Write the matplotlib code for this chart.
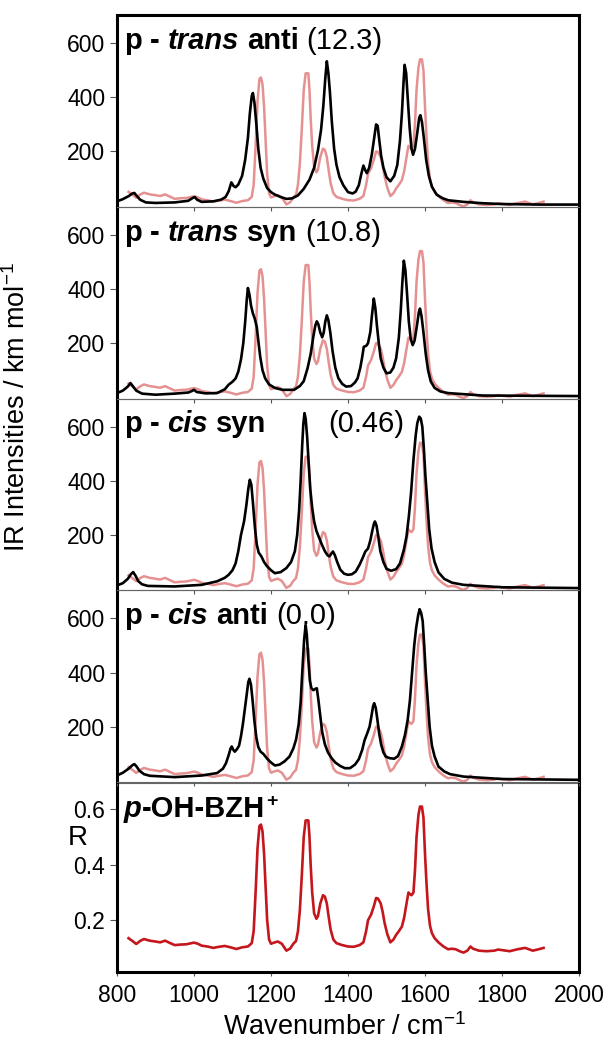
import matplotlib
matplotlib.use("Agg")
import matplotlib.pyplot as plt
import numpy as np

plt.rcParams['font.family'] = ['Liberation Sans', 'DejaVu Sans']
plt.rcParams['mathtext.fontset'] = 'custom'
plt.rcParams['mathtext.rm'] = 'Liberation Sans'
plt.rcParams['mathtext.it'] = 'Liberation Sans:italic'
plt.rcParams['mathtext.bf'] = 'Liberation Sans:bold'

# ---------------- data ----------------
# experimental IRMPD spectrum (R)
exp_wn = [830, 840, 850, 860, 870, 885, 900, 912, 925, 937, 950, 965, 980, 1000, 1010, 1020,
          1035, 1050, 1065, 1080, 1095, 1110, 1125, 1140, 1150, 1155, 1160, 1165, 1170, 1174,
          1178, 1182, 1186, 1190, 1195, 1200, 1210, 1218, 1228, 1240, 1250, 1258, 1265, 1270,
          1275, 1280, 1285, 1290, 1297, 1300, 1303, 1307, 1312, 1318, 1322, 1328, 1335, 1340,
          1345, 1350, 1355, 1362, 1370, 1385, 1400, 1415, 1430, 1440, 1447, 1452, 1460, 1467,
          1473, 1478, 1485, 1490, 1495, 1502, 1510, 1518, 1525, 1532, 1540, 1546, 1552, 1557,
          1560, 1565, 1570, 1574, 1578, 1583, 1587, 1592, 1596, 1600, 1604, 1608, 1613, 1618,
          1625, 1635, 1648, 1660, 1670, 1680, 1690, 1700, 1710, 1718, 1725, 1740, 1760, 1780,
          1790, 1800, 1820, 1840, 1860, 1870, 1880, 1895, 1908]
exp_R = [0.135, 0.125, 0.114, 0.125, 0.132, 0.126, 0.123, 0.120, 0.126, 0.118, 0.110, 0.112,
         0.113, 0.119, 0.115, 0.108, 0.105, 0.100, 0.104, 0.107, 0.102, 0.096, 0.102, 0.105,
         0.117, 0.160, 0.300, 0.460, 0.540, 0.545, 0.520, 0.440, 0.320, 0.200, 0.130, 0.115,
         0.120, 0.123, 0.115, 0.090, 0.098, 0.115, 0.125, 0.160, 0.237, 0.360, 0.500, 0.560,
         0.560, 0.500, 0.400, 0.300, 0.225, 0.205, 0.215, 0.260, 0.290, 0.285, 0.260, 0.210,
         0.165, 0.130, 0.117, 0.110, 0.105, 0.104, 0.110, 0.120, 0.160, 0.200, 0.220, 0.250,
         0.280, 0.278, 0.260, 0.230, 0.190, 0.150, 0.120, 0.130, 0.147, 0.160, 0.177, 0.210,
         0.260, 0.300, 0.295, 0.290, 0.300, 0.380, 0.500, 0.580, 0.610, 0.610, 0.570, 0.440,
         0.330, 0.240, 0.180, 0.153, 0.135, 0.120, 0.105, 0.095, 0.097, 0.095, 0.088, 0.083,
         0.090, 0.105, 0.097, 0.090, 0.088, 0.090, 0.094, 0.092, 0.088, 0.095, 0.100, 0.095,
         0.090, 0.095, 0.100]

# calculated spectra (IR intensities, km/mol)
ta_wn = [800, 815, 830, 840, 845, 852, 860, 875, 900, 950, 985, 995, 1002, 1008, 1020, 1050,
         1070, 1082, 1090, 1097, 1103, 1108, 1115, 1125, 1133, 1140, 1145, 1150, 1153, 1157,
         1162, 1167, 1173, 1180, 1190, 1200, 1210, 1225, 1240, 1255, 1270, 1285, 1300, 1312,
         1322, 1330, 1336, 1341, 1345, 1349, 1353, 1358, 1364, 1370, 1378, 1388, 1400, 1412,
         1420, 1428, 1435, 1440, 1445, 1449, 1455, 1462, 1468, 1473, 1477, 1481, 1486, 1492,
         1500, 1510, 1520, 1528, 1535, 1540, 1544, 1547, 1551, 1555, 1560, 1565, 1569, 1574,
         1580, 1585, 1588, 1592, 1597, 1603, 1610, 1618, 1630, 1645, 1660, 1700, 1750, 1800,
         1900, 2000]
ta_I = [16, 24, 35, 45, 47, 35, 22, 12, 10, 12, 18, 27, 32, 22, 14, 16, 22, 32, 53, 86, 72, 68,
        78, 110, 170, 250, 340, 405, 416, 380, 300, 210, 140, 100, 65, 50, 41, 32, 25, 27, 38,
        62, 96, 140, 205, 280, 370, 470, 533, 490, 420, 310, 210, 151, 105, 75, 50, 45, 52, 75,
        120, 148, 130, 120, 140, 190, 250, 300, 295, 245, 185, 140, 105, 90, 110, 150, 240, 340,
        450, 520, 490, 400, 290, 210, 188, 210, 270, 325, 334, 310, 250, 170, 110, 70, 41, 28,
        20, 14, 9, 6, 4, 4]

ts_wn = [800, 815, 828, 835, 842, 850, 865, 900, 950, 985, 995, 1000, 1007, 1030, 1060, 1080,
         1090, 1100, 1108, 1115, 1122, 1128, 1133, 1137, 1140, 1144, 1148, 1153, 1158, 1163,
         1167, 1172, 1178, 1185, 1195, 1210, 1230, 1260, 1275, 1285, 1295, 1303, 1310, 1315,
         1319, 1323, 1328, 1333, 1337, 1341, 1345, 1349, 1354, 1360, 1367, 1375, 1385, 1395,
         1408, 1418, 1425, 1432, 1437, 1441, 1447, 1452, 1458, 1462, 1467, 1471, 1475, 1480,
         1485, 1492, 1500, 1510, 1518, 1525, 1532, 1537, 1541, 1545, 1549, 1553, 1558, 1563,
         1568, 1573, 1579, 1584, 1587, 1591, 1596, 1602, 1608, 1615, 1625, 1640, 1660, 1750,
         2000]
ts_I = [16, 25, 40, 53, 40, 25, 14, 10, 14, 18, 24, 28, 20, 15, 16, 30, 47, 58, 70, 95, 140,
        200, 280, 360, 404, 380, 340, 310, 290, 260, 210, 150, 100, 70, 48, 35, 28, 28, 42, 60,
        108, 160, 225, 265, 281, 270, 240, 222, 240, 280, 303, 285, 240, 170, 110, 71, 50, 40,
        42, 55, 71, 110, 150, 187, 190, 200, 242, 300, 365, 330, 267, 200, 144, 110, 89, 92,
        110, 144, 220, 320, 420, 505, 470, 390, 280, 215, 193, 210, 265, 315, 328, 300, 240,
        160, 100, 59, 35, 22, 16, 7, 5]

cs_wn = [800, 815, 828, 836, 842, 848, 855, 865, 880, 950, 1020, 1060, 1080, 1090, 1100, 1108,
         1115, 1122, 1130, 1136, 1141, 1145, 1149, 1153, 1158, 1163, 1168, 1175, 1182, 1190,
         1200, 1210, 1225, 1240, 1252, 1262, 1268, 1273, 1277, 1281, 1284, 1287, 1290, 1294,
         1298, 1302, 1307, 1312, 1318, 1325, 1332, 1340, 1347, 1352, 1357, 1361, 1366, 1372,
         1380, 1390, 1400, 1410, 1420, 1430, 1438, 1445, 1452, 1458, 1463, 1467, 1470, 1474,
         1478, 1484, 1492, 1500, 1512, 1525, 1535, 1545, 1552, 1558, 1564, 1570, 1576, 1580,
         1585, 1589, 1593, 1597, 1601, 1606, 1611, 1617, 1625, 1635, 1650, 1670, 1700, 1800,
         2000]
cs_I = [14, 22, 38, 55, 63, 50, 30, 18, 12, 10, 16, 29, 42, 53, 70, 95, 140, 200, 250, 310,
        370, 404, 385, 320, 231, 165, 135, 121, 100, 84, 70, 59, 63, 78, 100, 140, 200, 290,
        400, 530, 610, 650, 630, 560, 460, 370, 300, 250, 215, 190, 165, 140, 125, 121, 132,
        139, 125, 100, 72, 57, 53, 55, 65, 90, 115, 139, 150, 180, 215, 240, 250, 235, 200,
        140, 100, 75, 68, 74, 95, 145, 195, 268, 360, 477, 570, 613, 637, 630, 600, 520, 420,
        320, 220, 150, 100, 62, 38, 24, 16, 7, 4]

ca_wn = [800, 815, 830, 840, 845, 850, 858, 870, 885, 950, 1020, 1060, 1075, 1083, 1090, 1095,
         1098, 1102, 1106, 1112, 1117, 1122, 1127, 1132, 1137, 1141, 1144, 1148, 1152, 1157,
         1162, 1167, 1173, 1180, 1190, 1200, 1210, 1222, 1235, 1248, 1258, 1265, 1272, 1277,
         1282, 1286, 1290, 1293, 1297, 1301, 1305, 1310, 1315, 1319, 1323, 1328, 1333, 1340,
         1348, 1357, 1367, 1380, 1392, 1405, 1418, 1428, 1437, 1443, 1450, 1456, 1461, 1465,
         1468, 1472, 1476, 1481, 1486, 1492, 1498, 1508, 1520, 1530, 1540, 1548, 1555, 1561,
         1567, 1572, 1577, 1582, 1586, 1590, 1594, 1598, 1602, 1607, 1612, 1618, 1625, 1635,
         1650, 1665, 1700, 1800, 2000]
ca_I = [20, 30, 45, 58, 62, 55, 38, 25, 19, 14, 20, 29, 45, 65, 95, 120, 127, 115, 108, 118,
        130, 165, 210, 265, 320, 365, 377, 355, 300, 220, 160, 125, 108, 100, 82, 68, 57, 60,
        72, 90, 120, 152, 210, 290, 422, 520, 576, 540, 447, 370, 342, 335, 340, 342, 300, 240,
        180, 135, 105, 85, 68, 55, 47, 47, 60, 80, 115, 150, 176, 200, 240, 275, 287, 270, 230,
        175, 135, 105, 90, 84, 82, 92, 127, 170, 225, 300, 410, 500, 565, 610, 634, 620, 590,
        500, 400, 300, 200, 130, 90, 53, 35, 25, 16, 7, 4]

calc_wn = [ta_wn, ts_wn, cs_wn, ca_wn]
calc_I = [ta_I, ts_I, cs_I, ca_I]
conformer = ["trans", "trans", "cis", "cis"]
orientation = ["anti", "syn", "syn", "anti"]
rel_energy = ["(12.3)", "(10.8)", "(0.46)", "(0.0)"]

ir_ticks = [200, 400, 600]
r_ticks = [0.2, 0.4, 0.6]
x_ticks = [800, 1000, 1200, 1400, 1600, 1800, 2000]

# ---------------- layout ----------------
W_PX, H_PX = 611, 1043
fig = plt.figure(figsize=(W_PX / 100, H_PX / 100), dpi=100)
fig.patch.set_facecolor('white')

left_px, right_px = 117, 579
tops = [15, 206.75, 398.5, 590.25, 783]
bots = [206.75, 398.5, 590.25, 782, 972]

def make_ax(i):
    t, b = tops[i], bots[i]
    return fig.add_axes([left_px / W_PX, 1 - b / H_PX, (right_px - left_px) / W_PX, (b - t) / H_PX])

THICK = 2.2
THIN = 0.8
TICKC = '#555555'
TITLE_FS = 21
GAP = 8

def style_ax(ax, top_thick, bottom_thick, show_xlabels):
    for side in ['left', 'right']:
        ax.spines[side].set_linewidth(THICK)
        ax.spines[side].set_color('black')
    ax.spines['top'].set_linewidth(THICK if top_thick else THIN)
    ax.spines['top'].set_color('black' if top_thick else '#666666')
    ax.spines['bottom'].set_linewidth(THICK if bottom_thick else THIN)
    ax.spines['bottom'].set_color('black' if bottom_thick else '#666666')
    ax.set_xlim(800, 2000)
    ax.set_xticks(x_ticks)
    ax.tick_params(axis='x', direction='out', length=2.8, width=0.8, color=TICKC,
                   labelsize=16.5, pad=5.5, labelbottom=show_xlabels)
    ax.tick_params(axis='y', direction='out', length=5, width=0.8, color=TICKC,
                   labelsize=16.5, pad=3.5)
    ax.patch.set_visible(False)

def add_title(ax, pieces):
    prev = None
    for text, weight, style, fs in pieces:
        if prev is None:
            prev = ax.annotate(text, xy=(0, 1), xycoords='axes fraction', xytext=(7, -34),
                               textcoords='offset pixels', ha='left', va='baseline',
                               fontsize=fs, fontweight=weight, fontstyle=style,
                               annotation_clip=False, zorder=10)
        else:
            prev = ax.annotate(text, xy=(1, 0), xycoords=prev, xytext=(GAP, 0),
                               textcoords='offset pixels', ha='left', va='bottom',
                               fontsize=fs, fontweight=weight, fontstyle=style,
                               annotation_clip=False, zorder=10)
    return prev

for i in range(4):
    ax = make_ax(i)
    tw = ax.twinx()
    tw.plot(exp_wn, exp_R, color='#e38585', lw=1.8, alpha=0.9, solid_joinstyle='round')
    tw.set_ylim(0.0816, 0.769)
    tw.axis('off')
    ax.set_zorder(tw.get_zorder() + 1)
    ax.plot(calc_wn[i], calc_I[i], color='black', lw=1.9, solid_joinstyle='round')
    ax.set_ylim(-4, 704)
    ax.set_yticks(ir_ticks)
    style_ax(ax, top_thick=(i == 0), bottom_thick=False, show_xlabels=False)
    tw.set_xlim(800, 2000)
    pieces = [("p", 'bold', 'normal', TITLE_FS), ("-", 'bold', 'normal', TITLE_FS),
              (conformer[i], 'bold', 'italic', TITLE_FS), (orientation[i], 'bold', 'normal', TITLE_FS)]
    if i == 2:
        add_title(ax, pieces)
        ax.annotate(rel_energy[i], xy=(1350, 1), xycoords=('data', 'axes fraction'),
                    xytext=(0, -34), textcoords='offset pixels', ha='left', va='baseline',
                    fontsize=TITLE_FS, annotation_clip=False, zorder=10)
    else:
        add_title(ax, pieces + [(rel_energy[i], 'normal', 'normal', TITLE_FS)])

# bottom panel: experimental spectrum
ax5 = make_ax(4)
ax5.plot(exp_wn, exp_R, color='#c4161c', lw=1.9, solid_joinstyle='round')
ax5.set_ylim(0.013, 0.695)
ax5.set_yticks(r_ticks)
ax5.set_yticklabels(["0.2", "0.4", "0.6"])
style_ax(ax5, top_thick=False, bottom_thick=True, show_xlabels=True)
last = add_title(ax5, [("p", 'bold', 'italic', TITLE_FS)])
t2 = ax5.annotate("-OH-BZH", xy=(1, 0), xycoords=last, xytext=(0, 0),
                  textcoords='offset pixels', ha='left', va='bottom', fontsize=TITLE_FS,
                  fontweight='bold', annotation_clip=False, zorder=10)
ax5.annotate("+", xy=(1, 1), xycoords=t2, xytext=(1, 2), textcoords='offset pixels',
             ha='left', va='top', fontsize=14, fontweight='bold', annotation_clip=False, zorder=10)

# axis labels
fig.text(17 / W_PX, 1 - 407 / H_PX, 'IR Intensities / km mol$^{\\mathregular{-1}}$', rotation=90,
         ha='center', va='center', fontsize=19.5)
fig.text(78 / W_PX, 1 - 838 / H_PX, 'R', ha='center', va='center', fontsize=20)
fig.text(345 / W_PX, 1 - 1035 / H_PX, 'Wavenumber / cm$^{\\mathregular{-1}}$', ha='center',
         va='baseline', fontsize=19.5)

fig.savefig('out.png', dpi=100, facecolor='white')
